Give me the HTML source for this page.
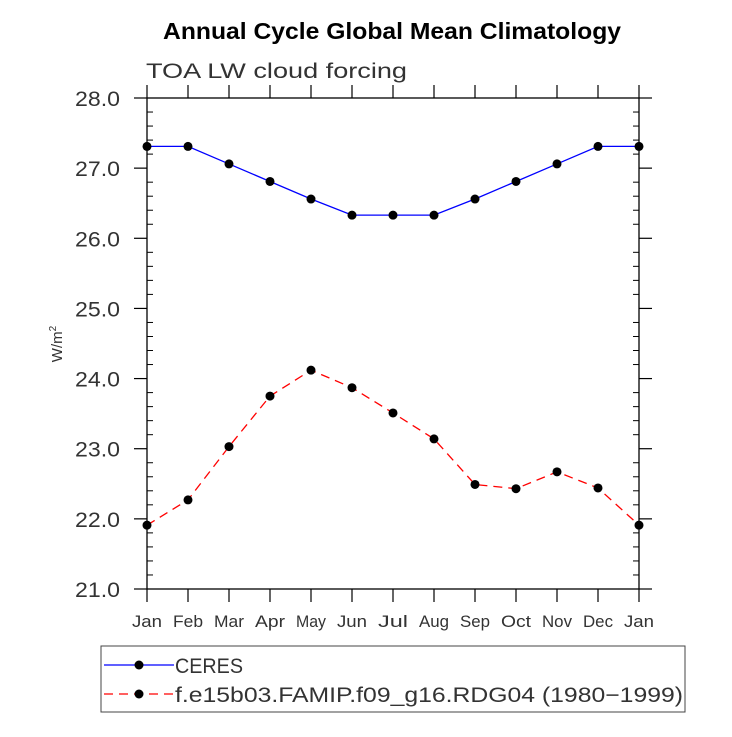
<!DOCTYPE html>
<html><head><meta charset="utf-8"><style>
body{margin:0;background:#fff}
svg text{font-family:"Liberation Sans",sans-serif}
</style></head><body>
<svg id="chart" width="732" height="732" viewBox="0 0 732 732" xmlns="http://www.w3.org/2000/svg">
<text x="163" y="39" font-size="23" font-weight="bold" textLength="458" lengthAdjust="spacingAndGlyphs">Annual Cycle Global Mean Climatology</text>
<text x="146" y="78" font-size="21" fill="#333" textLength="261" lengthAdjust="spacingAndGlyphs">TOA LW cloud forcing</text>
<text transform="translate(62,344) rotate(-90)" text-anchor="middle" font-size="15" fill="#333">W/m<tspan font-size="10" dy="-6">2</tspan></text>
<g id="axes"></g>
<g id="series"></g>
<g>
<rect x="101" y="646" width="584" height="66" fill="none" stroke="#444" stroke-width="1"/>
<g>
<line x1="104" y1="665" x2="174" y2="665" stroke="#00f" stroke-width="1.3"/>
<circle cx="139" cy="665" r="4.5"/>
<text x="175" y="673" font-size="21" fill="#333" textLength="68" lengthAdjust="spacingAndGlyphs">CERES</text>
</g>
<g>
<line x1="104" y1="694" x2="174" y2="694" stroke="#f00" stroke-width="1.3" stroke-dasharray="9,6"/>
<circle cx="139" cy="694" r="4.5"/>
<text x="175" y="702" font-size="21" fill="#333" textLength="508" lengthAdjust="spacingAndGlyphs">f.e15b03.FAMIP.f09_g16.RDG04 (1980−1999)</text>
</g>
</g>
</svg>
<script>
const months=["Jan","Feb","Mar","Apr","May","Jun","Jul","Aug","Sep","Oct","Nov","Dec","Jan"];
const yTicks=[21,22,23,24,25,26,27,28];
const ceres=[27.31,27.31,27.06,26.81,26.56,26.33,26.33,26.33,26.56,26.81,27.06,27.31,27.31];
const model=[21.91,22.27,23.03,23.75,24.12,23.87,23.51,23.14,22.49,22.43,22.67,22.44,21.91];
const X0=147,X1=639,Y0=589,Y1=98,yMin=21,yMax=28;
const xs=i=>X0+(X1-X0)*i/(months.length-1);
const ys=v=>Y0-(v-yMin)/(yMax-yMin)*(Y0-Y1);
const NS="http://www.w3.org/2000/svg";
function mk(tag,attrs,parent){const e=document.createElementNS(NS,tag);for(const k in attrs)e.setAttribute(k,attrs[k]);parent.appendChild(e);return e;}
const ax=document.getElementById('axes');
const frame=mk('rect',{x:X0,y:Y1,width:X1-X0,height:Y0-Y1,fill:'none',stroke:'#000','stroke-width':1.3},ax);


months.forEach((m,i)=>{
  const x=xs(i);
  mk('line',{x1:x,y1:Y0,x2:x,y2:Y0+13,stroke:'#000','stroke-width':1.2},ax);
  mk('line',{x1:x,y1:Y1,x2:x,y2:Y1-13,stroke:'#000','stroke-width':1.2},ax);
  const t=mk('text',{x:x-15,y:627,'font-size':17,fill:'#333',textLength:30,lengthAdjust:'spacingAndGlyphs'},ax);
  t.textContent=m;
  
  
});
yTicks.forEach((v,i)=>{
  const y=ys(v);
  mk('line',{x1:X0-13,y1:y,x2:X0,y2:y,stroke:'#000','stroke-width':1.2},ax);
  mk('line',{x1:X1,y1:y,x2:X1+13,y2:y,stroke:'#000','stroke-width':1.2},ax);
  const t=mk('text',{x:X0-72,y:y+8,'font-size':21,fill:'#333',textLength:45,lengthAdjust:'spacingAndGlyphs'},ax);
  t.textContent=v.toFixed(1);
  
  
  if(i<yTicks.length-1){for(let k=1;k<5;k++){const yy=ys(v+k*0.2);
    mk('line',{x1:X0,y1:yy,x2:X0+6,y2:yy,stroke:'#000','stroke-width':1},ax);
    mk('line',{x1:X1-6,y1:yy,x2:X1,y2:yy,stroke:'#000','stroke-width':1},ax);}}
});
const sg=document.getElementById('series');
function series(data,color,dash,name){
  const g=mk('g',{},sg);
  
  
  const p=mk('polyline',{points:data.map((v,i)=>xs(i)+','+ys(v)).join(' '),fill:'none',stroke:color,'stroke-width':1.3},g);
  if(dash)p.setAttribute('stroke-dasharray',dash);
  data.forEach((v,i)=>{const c=mk('circle',{cx:xs(i),cy:ys(v),r:4.5,fill:'#000'},g);
    
    });
}
series(ceres,'#00f',null,'ceres-series');
series(model,'#f00','9,6','model-series');
</script>
</body></html>
